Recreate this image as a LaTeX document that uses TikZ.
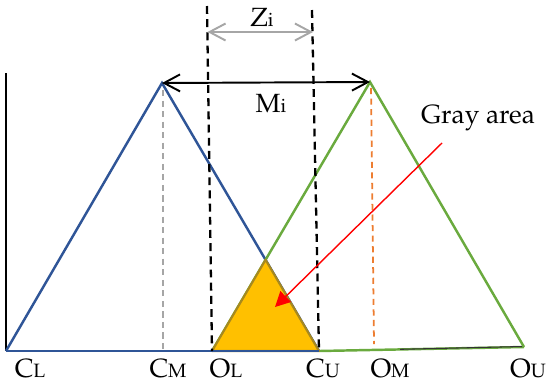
\documentclass[tikz,border=0pt]{standalone}
\usepackage[T1]{fontenc}
\usepackage{mathpazo}
\usepackage{tikz}
\usetikzlibrary{positioning,arrows.meta,calc}
\definecolor{triBlue}{HTML}{2F5597}
\definecolor{triGreen}{HTML}{6AAA3E}
\definecolor{areaGold}{HTML}{FFC000}
\definecolor{areaEdge}{HTML}{A8891E}
\definecolor{midOrange}{HTML}{ED7D31}
\definecolor{lineGray}{HTML}{A6A6A6}
\newcommand{\sublbl}[2]{#1{\fontsize{11}{12}\selectfont #2}}

\begin{document}
\begin{tikzpicture}[x=0.02cm,y=-0.02cm,font=\fontsize{15}{17}\selectfont,
      tri/.style={line width=1.4pt,line join=miter},
      guide/.style={line width=1.3pt,dash pattern=on 4.5pt off 3pt},
      thinguide/.style={line width=1pt,dash pattern=on 3.5pt off 2.5pt},
      span/.style={line width=1.1pt,{Straight Barb[length=3.2mm,width=3.4mm]}-{Straight Barb[length=3.2mm,width=3.4mm]}},
      lbl/.style={inner sep=0pt,anchor=base}
    ]
    \useasboundingbox (0,0) rectangle (550,383);

    % corners of the two fuzzy numbers
    \coordinate (cl) at (6,351);
    \coordinate (cm) at (162,83);
    \coordinate (cu) at (319,351);
    \coordinate (ol) at (212,351);
    \coordinate (om) at (370,82);
    \coordinate (ou) at (524,347);
    \coordinate (cross) at (intersection of cm--cu and ol--om);
    \coordinate (axtop) at (6,73);
    \coordinate (zlt) at (207,6);
    \coordinate (zrt) at (312,10);

    \draw[line width=1pt] (axtop) -- (cl);

    \draw[thinguide,lineGray] (163,90) -- (163,351);
    \draw[thinguide,midOrange] (371,88) -- (374,344);

    \draw[tri,triBlue] (cl) -- (cm) -- (cu);
    \draw[tri,triGreen] (ol) -- (om) -- (ou);
    \draw[tri,triGreen] (cu) -- (ou);
    \draw[line width=0.6pt,black!80] (400,349.3) -- (522,346.5);

    \filldraw[areaGold,draw=areaEdge,line width=1.2pt,line join=round] (ol) -- (cross) -- (cu) -- cycle;
    \draw[tri,triBlue] (cl) -- (cu);

    \draw[guide] (zlt) -- (ol);
    \draw[guide] (zrt) -- (cu);

    \coordinate (zl) at (207.5,32);
    \coordinate (zr) at (313,32);
    \draw[span,lineGray] (zl) -- (zr);
    \draw[span] (cm) -- (om);

    \node[lbl] (zi) at (262,26) {\sublbl{Z}{i}};
    \node[lbl] (mi) at (271,112) {\sublbl{M}{i}};
    \node[lbl] (gray) at (478,123) {Gray area};

    \coordinate (ptr) at (442,143);
    \coordinate (hit) at (275,307);
    \draw[red,line width=0.8pt,-{Triangle[length=3mm,width=3mm]}] (ptr) -- (hit);

    \node[lbl] (lcl) at (30,377) {\sublbl{C}{L}};
    \node[lbl] (lcm) at (168,377) {\sublbl{C}{M}};
    \node[lbl] (lol) at (226,377) {\sublbl{O}{L}};
    \node[lbl] (lcu) at (323,377) {\sublbl{C}{U}};
    \node[lbl] (lom) at (390,377) {\sublbl{O}{M}};
    \node[lbl] (lou) at (528,377) {\sublbl{O}{U}};
  \end{tikzpicture}
\end{document}
